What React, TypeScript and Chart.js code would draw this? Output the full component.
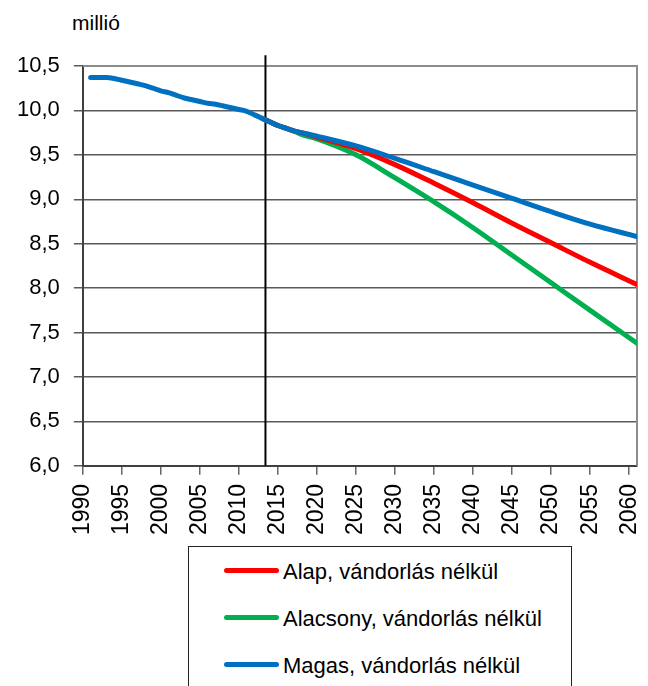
import React, { useEffect, useRef } from 'react';
import { Chart, registerables } from 'chart.js';

Chart.register(...registerables);

// Historical population (million), shared by all scenarios
const histYears = [1991, 1992, 1993, 1994, 1995, 1996, 1997, 1998, 1999, 2000, 2001, 2002, 2003, 2004, 2005, 2006, 2007, 2008, 2009, 2010, 2011, 2012, 2013];
const histValues = [10.37, 10.37, 10.37, 10.36, 10.34, 10.32, 10.30, 10.28, 10.25, 10.22, 10.20, 10.17, 10.14, 10.12, 10.10, 10.08, 10.07, 10.05, 10.03, 10.01, 9.99, 9.95, 9.91];

// Projection years
const projYears = [2013, 2014, 2015, 2016, 2017, 2018, 2020, 2025, 2030, 2035, 2040, 2045, 2050, 2055, 2061];
const alapValues = [9.91, 9.87, 9.83, 9.80, 9.77, 9.75, 9.70, 9.57, 9.39, 9.18, 8.96, 8.73, 8.51, 8.29, 8.04];
const alacsonyValues = [9.91, 9.87, 9.83, 9.80, 9.77, 9.73, 9.68, 9.50, 9.24, 8.97, 8.68, 8.37, 8.06, 7.75, 7.38];
const magasValues = [9.91, 9.87, 9.83, 9.80, 9.77, 9.75, 9.71, 9.60, 9.46, 9.31, 9.16, 9.01, 8.86, 8.72, 8.58];

const xTickYears = [1990, 1995, 2000, 2005, 2010, 2015, 2020, 2025, 2030, 2035, 2040, 2045, 2050, 2055, 2060];

const seriesLabels = ['Alap, vándorlás nélkül', 'Alacsony, vándorlás nélkül', 'Magas, vándorlás nélkül'];
const seriesColors = ['#FF0000', '#00B050', '#0070C0'];

const dividerYear = 2013.4;
const dividerRange = [6.0, 10.62];

const yUnit = 'millió';
const FONT = '"Liberation Sans", Arial, sans-serif';

export default function App() {
  const ref = useRef<HTMLCanvasElement>(null);

  useEffect(() => {
    if (!ref.current) return;
    const framePlugin = {
      id: 'frame',
      beforeDatasetsDraw(chart: any) {
        const { ctx, chartArea } = chart;
        ctx.save();
        ctx.strokeStyle = '#8c8c8c';
        ctx.lineWidth = 2;
        ctx.beginPath();
        ctx.moveTo(chartArea.left, chartArea.top);
        ctx.lineTo(chartArea.right, chartArea.top);
        ctx.lineTo(chartArea.right, chartArea.bottom);
        ctx.stroke();
        ctx.restore();
      },
    };

    const toPts = (xs: number[], ys: number[]) => xs.map((x, i) => ({ x, y: ys[i] }));
    const magasFull = [...toPts(histYears, histValues), ...toPts(projYears.slice(1), magasValues.slice(1))];

    const lineStyle = (color: string) => ({
      borderColor: color,
      backgroundColor: color,
      borderWidth: 5,
      pointRadius: 0,
      cubicInterpolationMode: 'monotone',
      borderCapStyle: 'round',
      borderJoinStyle: 'round',
    });

    const chart = new Chart(ref.current, {
      type: 'line',
      data: {
        datasets: [
          { label: seriesLabels[0], data: toPts(projYears, alapValues), ...lineStyle(seriesColors[0]), order: 1 },
          { label: seriesLabels[1], data: toPts(projYears, alacsonyValues), ...lineStyle(seriesColors[1]), order: 2 },
          { label: seriesLabels[2], data: magasFull, ...lineStyle(seriesColors[2]), order: 0 },
          {
            label: 'divider',
            data: dividerRange.map((y) => ({ x: dividerYear, y })),
            borderColor: '#000000',
            borderWidth: 2,
            pointRadius: 0,
            clip: false,
            order: 3,
          },
        ] as any,
      },
      options: {
        animation: false,
        responsive: false,
        layout: { padding: { left: 3, right: 11, top: 66, bottom: 1 } },
        plugins: {
          legend: { display: false },
          tooltip: { enabled: false },
        },
        scales: {
          x: {
            type: 'linear',
            min: 1990,
            max: 2061,
            afterBuildTicks: (scale: any) => {
              scale.ticks = xTickYears.map((v) => ({ value: v }));
            },
            afterFit: (scale: any) => {
              scale.paddingLeft = 0;
              scale.paddingRight = 0;
            },
            ticks: {
              autoSkip: false,
              minRotation: 90,
              maxRotation: 90,
              padding: 9,
              color: '#000',
              font: { family: FONT, size: 23 },
              callback: (v: any) => String(v),
            },
            grid: {
              drawOnChartArea: false,
              drawTicks: true,
              tickLength: 9,
              color: '#666',
              lineWidth: 1.5,
            },
            border: { color: '#404040', width: 2 },
          },
          y: {
            min: 6,
            max: 10.5,
            ticks: {
              stepSize: 0.5,
              padding: 14,
              color: '#000',
              font: { family: FONT, size: 22 },
              callback: (v: any) => Number(v).toFixed(1).replace('.', ','),
            },
            grid: {
              drawTicks: true,
              tickLength: 9,
              color: '#5a5a5a',
              lineWidth: 1.5,
            },
            border: { color: '#404040', width: 2 },
          },
        },
      } as any,
      plugins: [framePlugin],
    });
    return () => chart.destroy();
  }, []);

  return (
    <div
      style={{
        position: 'absolute',
        left: 0,
        top: 0,
        width: 648,
        height: 686,
        overflow: 'hidden',
        background: '#fff',
        fontFamily: FONT,
      }}
    >
      <div style={{ position: 'absolute', left: 72, top: 11, fontSize: 21, lineHeight: '23px' }}>{yUnit}</div>
      <canvas ref={ref} width={648} height={545} style={{ position: 'absolute', left: 0, top: 0 }} />
      <div
        style={{
          position: 'absolute',
          left: 188,
          top: 546,
          width: 382,
          height: 200,
          border: '1px solid #222',
        }}
      />
      {seriesLabels.map((label, i) => (
        <React.Fragment key={label}>
          <div
            style={{
              position: 'absolute',
              left: 224,
              top: 570 + 47 * i - 2.5,
              width: 55,
              height: 5,
              borderRadius: 2.5,
              background: seriesColors[i],
            }}
          />
          <div
            style={{
              position: 'absolute',
              left: 283,
              top: 559 + 47 * i,
              fontSize: 22,
              lineHeight: '25px',
              whiteSpace: 'nowrap',
              color: '#000',
            }}
          >
            {label}
          </div>
        </React.Fragment>
      ))}
    </div>
  );
}
